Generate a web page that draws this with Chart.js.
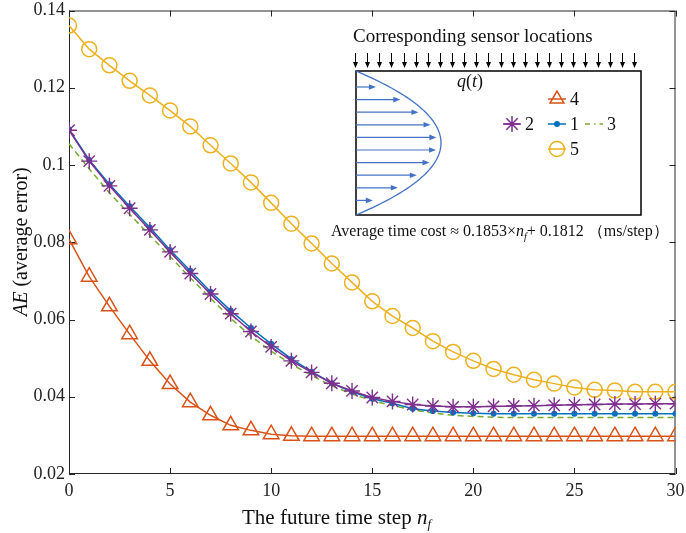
<!DOCTYPE html>
<html>
<head>
<meta charset="utf-8">
<title>AE vs future time step</title>
<script src="https://cdn.jsdelivr.net/npm/chart.js@4.4.0/dist/chart.umd.min.js"></script>
<style>
  html, body { margin: 0; padding: 0; background: #fff; }
  canvas { display: block; }
</style>
</head>
<body>
<canvas id="mainChart" width="686" height="533"></canvas>
<script>
const steps = [0, 1, 2, 3, 4, 5, 6, 7, 8, 9, 10, 11, 12, 13, 14, 15, 16, 17, 18, 19, 20,
  21, 22, 23, 24, 25, 26, 27, 28, 29, 30];
const xTicks = [0, 5, 10, 15, 20, 25, 30];
const yTicks = [0.02, 0.04, 0.06, 0.08, 0.1, 0.12, 0.14];

const ae1 = [0.1092, 0.1013, 0.0950, 0.0893, 0.0838, 0.0780, 0.0726, 0.0672, 0.0623, 0.0578,
  0.0537, 0.0498, 0.0465, 0.0435, 0.0413, 0.0395, 0.0383, 0.0369, 0.0363, 0.0359, 0.0357,
  0.0356, 0.0356, 0.0356, 0.0356, 0.0356, 0.0356, 0.0356, 0.0356, 0.0356, 0.0356];
const ae2 = [0.1090, 0.1010, 0.0946, 0.0888, 0.0832, 0.0775, 0.0719, 0.0666, 0.0615, 0.0569,
  0.0529, 0.0493, 0.0463, 0.0435, 0.0415, 0.0398, 0.0388, 0.0380, 0.0376, 0.0374, 0.0374,
  0.0375, 0.0376, 0.0377, 0.0378, 0.0379, 0.0380, 0.0381, 0.0381, 0.0382, 0.0382];
const ae3 = [0.1055, 0.0990, 0.0928, 0.0872, 0.0818, 0.0763, 0.0708, 0.0655, 0.0603, 0.0557,
  0.0518, 0.0484, 0.0455, 0.0428, 0.0407, 0.0390, 0.0377, 0.0366, 0.0358, 0.0352, 0.0349,
  0.0347, 0.0346, 0.0346, 0.0346, 0.0346, 0.0346, 0.0346, 0.0346, 0.0346, 0.0346];
const ae4 = [0.0808, 0.0711, 0.0634, 0.0562, 0.0493, 0.0433, 0.0386, 0.0352, 0.0326, 0.0313,
  0.0303, 0.0299, 0.0298, 0.0298, 0.0298, 0.0298, 0.0298, 0.0298, 0.0298, 0.0298, 0.0298,
  0.0298, 0.0298, 0.0298, 0.0298, 0.0298, 0.0298, 0.0298, 0.0298, 0.0298, 0.0298];
const ae5 = [0.1361, 0.1300, 0.1258, 0.1218, 0.1180, 0.1141, 0.1100, 0.1051, 0.1004, 0.0955,
  0.0902, 0.0848, 0.0797, 0.0745, 0.0696, 0.0647, 0.0609, 0.0578, 0.0544, 0.0516, 0.0493,
  0.0472, 0.0457, 0.0444, 0.0434, 0.0424, 0.0418, 0.0416, 0.0413, 0.0413, 0.0413];

const SERIF = '"Liberation Serif", "Times New Roman", serif';
const AXIS = "#262626";
const BLUE = "#0072BD", ORANGE = "#D95319", YELLOW = "#EDB120",
  PURPLE = "#7E2F8E", GREEN = "#77AC30", SKETCH = "#4472C4";

function pts(values) {
  return values.map((v, i) => ({ x: steps[i], y: v }));
}

// draws consecutive text runs, each with its own font, returns end x
function runs(ctx, x, y, parts) {
  parts.forEach((p) => {
    ctx.font = p.font;
    ctx.fillText(p.text, x, y + (p.dy || 0));
    x += ctx.measureText(p.text).width + (p.gap || 0);
  });
  return x;
}

function filledHead(ctx, x, y, dx, dy, len, half) {
  ctx.beginPath();
  ctx.moveTo(x, y);
  ctx.lineTo(x - dx * len - dy * half, y - dy * len + dx * half);
  ctx.lineTo(x - dx * len + dy * half, y - dy * len - dx * half);
  ctx.closePath();
  ctx.fill();
}

function legendEntry(ctx, cx, cy, color, style, label) {
  ctx.save();
  ctx.strokeStyle = color;
  ctx.lineWidth = 1.5;
  if (style === "dash") ctx.setLineDash([5, 4, 1.5, 4]);
  ctx.beginPath();
  ctx.moveTo(cx - 9, cy);
  ctx.lineTo(cx + 9, cy);
  ctx.stroke();
  ctx.setLineDash([]);
  ctx.fillStyle = "rgba(0,0,0,0)";
  if (style === "triangle")
    Chart.helpers.drawPoint(ctx, { pointStyle: "triangle", radius: 8, borderWidth: 1.5 }, cx, cy);
  if (style === "star")
    Chart.helpers.drawPoint(ctx, { pointStyle: "star", radius: 8, borderWidth: 1.3 }, cx, cy);
  if (style === "circle")
    Chart.helpers.drawPoint(ctx, { pointStyle: "circle", radius: 7.5, borderWidth: 1.5 }, cx, cy);
  if (style === "dot") {
    ctx.fillStyle = color;
    ctx.beginPath();
    ctx.arc(cx, cy, 3, 0, Math.PI * 2);
    ctx.fill();
  }
  ctx.fillStyle = "#111";
  ctx.font = "18px " + SERIF;
  ctx.textBaseline = "middle";
  ctx.fillText(label, cx + 13, cy + 1);
  ctx.restore();
}

const framePlugin = {
  id: "frame",
  beforeDatasetsDraw(chart) {
    const { ctx, chartArea: a, scales } = chart;
    ctx.save();
    ctx.strokeStyle = AXIS;
    ctx.lineWidth = 1;
    ctx.strokeRect(a.left + 0.5, a.top + 0.5, a.right - a.left - 1, a.bottom - a.top - 1);
    ctx.beginPath();
    xTicks.forEach((t) => {
      const px = Math.round(scales.x.getPixelForValue(t)) + 0.5;
      ctx.moveTo(px, a.bottom);
      ctx.lineTo(px, a.bottom - 6);
      ctx.moveTo(px, a.top);
      ctx.lineTo(px, a.top + 6);
    });
    yTicks.forEach((t) => {
      const py = Math.round(scales.y.getPixelForValue(t)) + 0.5;
      ctx.moveTo(a.left, py);
      ctx.lineTo(a.left + 6, py);
      ctx.moveTo(a.right, py);
      ctx.lineTo(a.right - 6, py);
    });
    ctx.stroke();
    ctx.restore();
  },
  afterDraw(chart) {
    const { ctx } = chart;
    ctx.save();
    ctx.fillStyle = "#111";
    ctx.textBaseline = "alphabetic";

    // axis titles
    runs(ctx, 242, 524, [
      { text: "The future time step ", font: "21px " + SERIF },
      { text: "n", font: "italic 21px " + SERIF },
      { text: "f", font: "italic 13px " + SERIF, dy: 4 },
    ]);
    ctx.save();
    ctx.translate(27, 316);
    ctx.rotate(-Math.PI / 2);
    runs(ctx, 0, 0, [
      { text: "AE", font: "italic 20px " + SERIF },
      { text: " (average error)", font: "20px " + SERIF },
    ]);
    ctx.restore();

    // inset: sensor layout sketch
    const bx = 356, by = 71, bw = 285, bh = 144;
    ctx.font = "19px " + SERIF;
    ctx.fillText("Corresponding sensor locations", 353, 42);

    ctx.strokeStyle = "#000";
    ctx.fillStyle = "#000";
    ctx.lineWidth = 1;
    for (let k = 0; k < 24; k++) {
      const x = Math.round(bx - 1 + k * 12.13) + 0.5;
      ctx.beginPath();
      ctx.moveTo(x, by - 18);
      ctx.lineTo(x, by - 7);
      ctx.stroke();
      filledHead(ctx, x, by - 3, 0, 1, 6, 2.5);
    }
    ctx.lineWidth = 1.5;
    ctx.strokeRect(bx, by, bw, bh);

    // parabolic load profile q(t)
    const depth = 85, midY = by + bh / 2;
    ctx.strokeStyle = SKETCH;
    ctx.fillStyle = SKETCH;
    ctx.lineWidth = 1.3;
    ctx.beginPath();
    for (let i = 0; i <= 60; i++) {
      const y = by + (bh * i) / 60;
      const u = (y - midY) / (bh / 2);
      const x = bx + depth * (1 - u * u);
      if (i === 0) ctx.moveTo(x, y); else ctx.lineTo(x, y);
    }
    ctx.stroke();
    ctx.lineWidth = 1.2;
    for (let k = 0; k < 10; k++) {
      const y = by + 16 + k * 12.6;
      const u = (y - midY) / (bh / 2);
      const tip = bx + depth * (1 - u * u) - (4 + 16 * u * u);
      ctx.beginPath();
      ctx.moveTo(bx, y);
      ctx.lineTo(tip - 5, y);
      ctx.stroke();
      filledHead(ctx, tip, y, 1, 0, 7, 2.8);
    }

    ctx.fillStyle = "#111";
    runs(ctx, 457, 87, [
      { text: "q", font: "italic 18px " + SERIF },
      { text: "(", font: "18px " + SERIF },
      { text: "t", font: "italic 18px " + SERIF },
      { text: ")", font: "18px " + SERIF },
    ]);

    legendEntry(ctx, 557, 99, ORANGE, "triangle", "4");
    legendEntry(ctx, 512, 124, PURPLE, "star", "2");
    legendEntry(ctx, 557, 124, BLUE, "dot", "1");
    legendEntry(ctx, 594, 124, GREEN, "dash", "3");
    legendEntry(ctx, 557, 149, YELLOW, "circle", "5");

    ctx.fillStyle = "#111";
    runs(ctx, 331, 236, [
      { text: "Average time cost \u2248 0.1853\u00d7", font: "16px " + SERIF },
      { text: "n", font: "italic 16px " + SERIF },
      { text: "f", font: "italic 10px " + SERIF, dy: 4 },
      { text: "+ 0.1812 \uff08ms/step\uff09", font: "16px " + SERIF },
    ]);
    ctx.restore();
  },
};

const ctx = document.getElementById("mainChart").getContext("2d");
const mainChart = new Chart(ctx, {
  type: "line",
  data: {
    datasets: [
      { label: "5", data: pts(ae5), borderColor: YELLOW, pointStyle: "circle", pointRadius: 7.5,
        pointBorderWidth: 1.5, pointBackgroundColor: "rgba(0,0,0,0)", order: 5 },
      { label: "4", data: pts(ae4), borderColor: ORANGE, pointStyle: "triangle", pointRadius: 9,
        pointBorderWidth: 1.5, pointBackgroundColor: "rgba(0,0,0,0)", order: 4 },
      { label: "3", data: pts(ae3), borderColor: GREEN, borderDash: [6, 4], pointRadius: 0, order: 3 },
      { label: "1", data: pts(ae1), borderColor: BLUE, pointStyle: "circle", pointRadius: 3,
        pointBorderWidth: 0, pointBackgroundColor: BLUE, order: 2 },
      { label: "2", data: pts(ae2), borderColor: PURPLE, pointStyle: "star", pointRadius: 8,
        pointBorderWidth: 1.4, pointBackgroundColor: "rgba(0,0,0,0)", order: 1 },
    ],
  },
  options: {
    responsive: false,
    animation: false,
    events: [],
    layout: { padding: { top: 6, right: 9, left: 0, bottom: 0 } },
    elements: { line: { borderWidth: 1.5, tension: 0, fill: false } },
    plugins: { legend: { display: false }, tooltip: { enabled: false } },
    scales: {
      x: {
        type: "linear",
        min: 0,
        max: 30,
        afterBuildTicks: (s) => { s.ticks = xTicks.map((v) => ({ value: v })); },
        afterFit: (s) => { s.height = 59; s.paddingLeft = 0; s.paddingRight = 0; },
        grid: { display: false, drawTicks: false },
        border: { display: false },
        ticks: { color: "#222", font: { family: SERIF, size: 18 }, padding: 6, maxRotation: 0 },
      },
      y: {
        type: "linear",
        min: 0.02,
        max: 0.14,
        afterBuildTicks: (s) => { s.ticks = yTicks.map((v) => ({ value: v })); },
        afterFit: (s) => { s.width = 69; s.paddingTop = 0; s.paddingBottom = 0; },
        grid: { display: false, drawTicks: false },
        border: { display: false },
        ticks: {
          color: "#222",
          font: { family: SERIF, size: 18 },
          padding: 4,
          callback: (v) => String(+v.toFixed(2)),
        },
      },
    },
  },
  plugins: [framePlugin],
});
</script>
</body>
</html>
